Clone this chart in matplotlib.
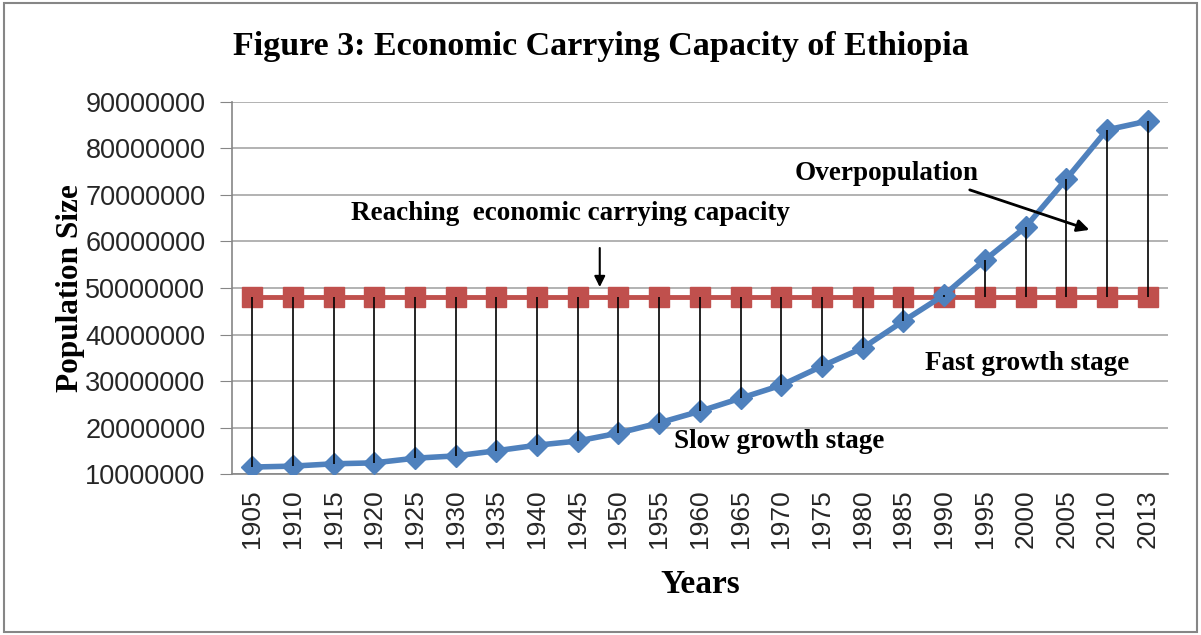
import numpy as np
import matplotlib.pyplot as plt
from matplotlib.patches import Rectangle

# --- Data ---
years = ["1905", "1910", "1915", "1920", "1925", "1930", "1935", "1940", "1945",
         "1950", "1955", "1960", "1965", "1970", "1975", "1980", "1985", "1990",
         "1995", "2000", "2005", "2010", "2013"]
population = [11.5e6, 11.7e6, 12.2e6, 12.4e6, 13.4e6, 13.9e6, 15.0e6, 16.2e6,
              17.1e6, 18.8e6, 21.0e6, 23.5e6, 26.3e6, 29.1e6, 33.2e6, 37.1e6,
              42.9e6, 48.5e6, 56.0e6, 63.1e6, 73.4e6, 84.0e6, 85.9e6]
capacity = [48e6] * len(years)
y_ticks = [10000000, 20000000, 30000000, 40000000, 50000000, 60000000,
           70000000, 80000000, 90000000]

serif = "Liberation Serif"
sans = "Liberation Sans"

fig = plt.figure(figsize=(12.01, 6.35), dpi=100)
ax = fig.add_axes([0.193, 0.2535, 0.7795, 0.5859])

x = np.arange(len(years))

# high-low drop lines between the two series
ax.vlines(x, np.minimum(population, capacity), np.maximum(population, capacity),
          color="black", lw=1.2, zorder=4)

ax.plot(x, capacity, color="#c0504d", lw=3.5, marker="s", ms=14,
        markeredgecolor="#c0504d", zorder=3)
ax.plot(x, population, color="#4f81bd", lw=4, marker="D", ms=11,
        markeredgecolor="#4f81bd", zorder=3)

ax.set_xlim(-0.5, len(years) - 0.5)
ax.set_ylim(10000000, 90000000)
ax.set_yticks(y_ticks)
ax.set_yticklabels([str(v) for v in y_ticks], fontfamily=sans, fontsize=19.5,
                   color="#262626")
ax.set_xticks(x)
ax.set_xticklabels(years, rotation=90, fontfamily=sans, fontsize=19,
                   color="#262626")
ax.tick_params(axis="y", length=9, color="#868686", pad=10)
ax.tick_params(axis="x", length=0, pad=11)
ax.grid(axis="y", color="#a6a6a6", lw=1.2)
ax.set_axisbelow(True)
for side in ["top", "right"]:
    ax.spines[side].set_visible(False)
for side in ["left", "bottom"]:
    ax.spines[side].set_color("#868686")
    ax.spines[side].set_linewidth(1.2)

ax.set_ylabel("Population Size", fontfamily=serif, fontweight="bold",
              fontsize=22.5, labelpad=0)
ax.set_xlabel("Years", fontfamily=serif, fontweight="bold", fontsize=24,
              labelpad=15)
fig.text(0.5, 0.926, "Figure 3: Economic Carrying Capacity of Ethiopia",
         ha="center", va="center", fontfamily=serif, fontweight="bold",
         fontsize=24.5)

# annotations
note = dict(ha="center", va="center", fontfamily=serif, fontweight="bold",
            fontsize=19.5)
ax.text(7.81, 66.1e6, "Reaching  economic carrying capacity", **note)
ax.annotate("", xy=(8.54, 50.2e6), xytext=(8.54, 58.6e6),
            arrowprops=dict(arrowstyle="-|>", color="black", lw=1.5,
                            shrinkA=0, shrinkB=0, mutation_scale=16))
ax.text(15.59, 74.7e6, "Overpopulation", **note)
ax.annotate("", xy=(20.57, 62.5e6), xytext=(17.63, 71.1e6),
            arrowprops=dict(arrowstyle="-|>", color="black", lw=2,
                            shrinkA=0, shrinkB=0, mutation_scale=18))
ax.text(19.05, 33.7e6, "Fast growth stage", **note)
ax.text(12.96, 17.1e6, "Slow growth stage", **note)

# outer frame
fig.patches.append(Rectangle((0.003, 0.005), 0.994, 0.99,
                             transform=fig.transFigure, fill=False,
                             edgecolor="#868686", lw=1.5))

fig.savefig("out.png", dpi=100)
